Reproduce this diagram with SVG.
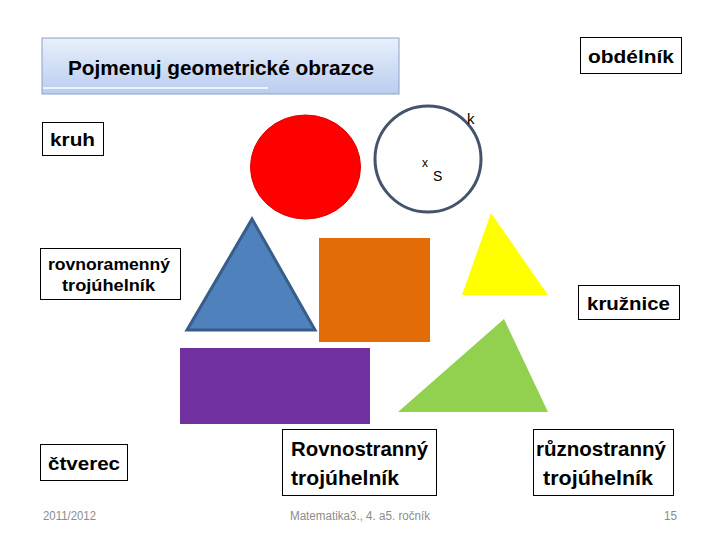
<svg xmlns="http://www.w3.org/2000/svg" width="720" height="540" viewBox="0 0 720 540">
<defs>
<linearGradient id="tg" x1="0" y1="0" x2="0" y2="1">
<stop offset="0" stop-color="#e8f0fb"/>
<stop offset="1" stop-color="#b9cdef"/>
</linearGradient>
</defs>
<style>
.lbl{fill:#fff;stroke:#000;stroke-width:1}
.t{font-family:"Liberation Sans",Arial,sans-serif;font-weight:bold;fill:#000}
.f{font-family:"Liberation Sans",Arial,sans-serif;font-size:12px;fill:#8c8c8c}
</style>
<rect width="720" height="540" fill="#fff"/>
<g id="title">
<rect x="42" y="38" width="357" height="56" fill="url(#tg)" stroke="#8aa2c8" stroke-width="1"/>
<line x1="43" y1="88" x2="268" y2="88" stroke="#ffffff" stroke-width="1.5"/>
<text class="t" x="68" y="75" font-size="20" textLength="306" lengthAdjust="spacingAndGlyphs">Pojmenuj geometrické obrazce</text>
</g>
<g id="obdelnik-label">
<rect class="lbl" x="580.5" y="37.5" width="101" height="36"/>
<text class="t" x="588" y="63" font-size="19" textLength="86" lengthAdjust="spacingAndGlyphs">obdélník</text>
</g>
<g id="kruh-label">
<rect class="lbl" x="42.5" y="122.5" width="61" height="33"/>
<text class="t" x="50" y="146" font-size="18" textLength="45" lengthAdjust="spacingAndGlyphs">kruh</text>
</g>
<g id="rovnoramenny-label">
<rect class="lbl" x="40.5" y="248.5" width="140" height="51"/>
<text class="t" x="48" y="270" font-size="16" textLength="122" lengthAdjust="spacingAndGlyphs">rovnoramenný</text>
<text class="t" x="62" y="291" font-size="16" textLength="93" lengthAdjust="spacingAndGlyphs">trojúhelník</text>
</g>
<g id="kruznice-label">
<rect class="lbl" x="578.5" y="285.5" width="101" height="34"/>
<text class="t" x="587" y="310" font-size="19" textLength="83" lengthAdjust="spacingAndGlyphs">kružnice</text>
</g>
<g id="ctverec-label">
<rect class="lbl" x="40.5" y="444.5" width="87" height="36"/>
<text class="t" x="48" y="470" font-size="19" textLength="72" lengthAdjust="spacingAndGlyphs">čtverec</text>
</g>
<g id="rovnostranny-label">
<rect class="lbl" x="282.5" y="429.5" width="154" height="66"/>
<text class="t" x="291" y="456" font-size="21" textLength="137" lengthAdjust="spacingAndGlyphs">Rovnostranný</text>
<text class="t" x="291" y="485" font-size="21" textLength="108" lengthAdjust="spacingAndGlyphs">trojúhelník</text>
</g>
<g id="ruznostranny-label">
<rect class="lbl" x="533.5" y="429.5" width="140" height="66"/>
<text class="t" x="536" y="456" font-size="21" textLength="130" lengthAdjust="spacingAndGlyphs">různostranný</text>
<text class="t" x="543" y="485" font-size="21" textLength="110" lengthAdjust="spacingAndGlyphs">trojúhelník</text>
</g>
<g id="red-disc">
<ellipse cx="305.5" cy="167" rx="55" ry="52" fill="#ff0000" stroke="#e00000" stroke-width="1"/>
</g>
<g id="circle-k">
<circle cx="428" cy="159" r="53" fill="none" stroke="#44546a" stroke-width="3"/>
<text x="467" y="124" font-family="'Liberation Sans',Arial,sans-serif" font-size="15" fill="#000">k</text>
<text x="422" y="167" font-family="'Liberation Sans',Arial,sans-serif" font-size="12" fill="#000">x</text>
<text x="433" y="181" font-family="'Liberation Sans',Arial,sans-serif" font-size="14" fill="#000">S</text>
</g>
<g id="yellow-triangle">
<polygon points="491,213 548,295 462,295" fill="#ffff00"/>
</g>
<g id="blue-triangle">
<polygon points="252,219 315,330 187,330" fill="#4f81bd" stroke="#385d8a" stroke-width="3" stroke-linejoin="miter"/>
</g>
<g id="orange-square">
<rect x="319" y="238" width="111" height="104" fill="#e36c09"/>
</g>
<g id="purple-rectangle">
<rect x="180" y="348" width="190" height="76" fill="#7030a0"/>
</g>
<g id="green-triangle">
<polygon points="398,412 504,319 548,412" fill="#92d050"/>
</g>
<g id="footer">
<text class="f" x="43" y="520" textLength="53" lengthAdjust="spacingAndGlyphs">2011/2012</text>
<text class="f" x="290" y="520" textLength="140" lengthAdjust="spacingAndGlyphs">Matematika3., 4. a5. ročník</text>
<text class="f" x="664" y="520" textLength="13" lengthAdjust="spacingAndGlyphs">15</text>
</g>
</svg>
